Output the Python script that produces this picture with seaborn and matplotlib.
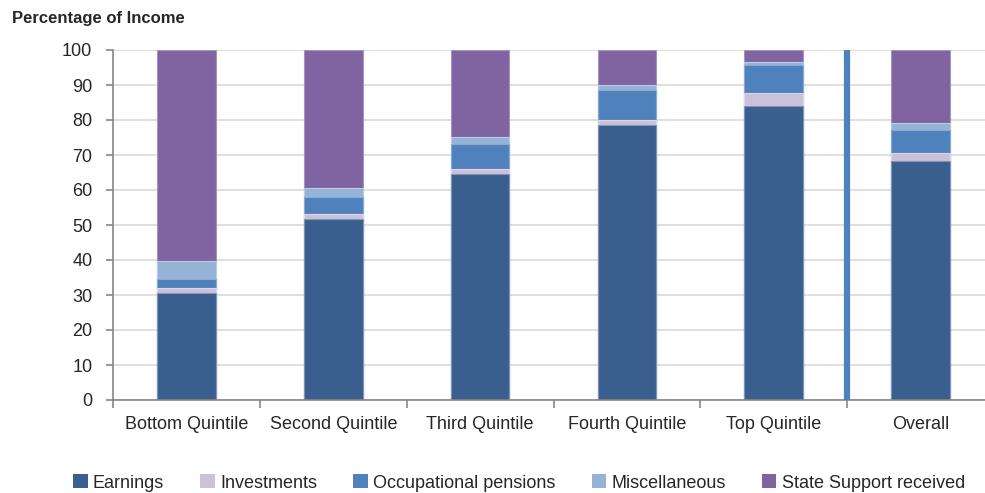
import matplotlib
matplotlib.use("Agg")
import matplotlib.pyplot as plt
import seaborn as sns
import numpy as np
import pandas as pd
from matplotlib.patches import Patch

categories = ["Bottom Quintile", "Second Quintile", "Third Quintile",
              "Fourth Quintile", "Top Quintile", "Overall"]
earnings = [30.7, 51.7, 64.6, 78.6, 84.1, 68.3]
investments = [1.4, 1.4, 1.4, 1.4, 3.6, 2.3]
occupational_pensions = [2.5, 4.9, 7.2, 8.7, 8.1, 6.6]
miscellaneous = [5.2, 2.6, 1.9, 1.3, 0.7, 1.9]
state_support = [60.2, 39.4, 24.9, 10.0, 3.5, 20.9]

series_names = ["Earnings", "Investments", "Occupational pensions",
                "Miscellaneous", "State Support received"]
series_values = [earnings, investments, occupational_pensions,
                 miscellaneous, state_support]
colors = ["#3a5f8e", "#ccc1da", "#4f81bd", "#95b3d7", "#8064a2"]
edge_colors = ["#7f95b3", "#ddd6e6", "#8aaad3", "#b9cde5", "#a793bf"]

sns.set_style("white")
plt.rcParams['font.family'] = ['Liberation Sans', 'DejaVu Sans']

fig = plt.figure(figsize=(9.85, 4.93), dpi=100)
ax = fig.add_axes([113.1/985, 1-400/493, 880.8/985, 350/493])

# cumulative stacking: draw from the top series down
cum = np.cumsum(np.array(series_values), axis=0)
for i in range(len(series_names) - 1, -1, -1):
    df = pd.DataFrame({"cat": categories, "val": cum[i]})
    sns.barplot(data=df, x="cat", y="val", color=colors[i], width=0.4,
                edgecolor=edge_colors[i], linewidth=0.8, ax=ax, saturation=1,
                order=categories)

ax.set_ylim(0, 100)
ax.set_xlim(-0.5, 5.5)
ax.set_yticks(np.arange(0, 101, 10))
ax.yaxis.grid(True, color="#d9d9d9", linewidth=1.2)
ax.set_axisbelow(True)
ax.set_xlabel("")
ax.set_ylabel("")

for s in ["top", "right"]:
    ax.spines[s].set_visible(False)
for s in ["left", "bottom"]:
    ax.spines[s].set_color("#868686")
    ax.spines[s].set_linewidth(1.2)

ax.tick_params(axis="y", which="major", left=True, length=5, width=1.2,
               color="#868686", labelsize=13, pad=10)
ax.tick_params(axis="x", which="major", bottom=False, labelsize=13, pad=8)
ax.set_xticks(np.arange(-0.5, 5.5, 1.0), minor=True)
ax.tick_params(axis="x", which="minor", bottom=True, length=6, width=1.2,
               color="#868686")

# separator between quintiles and overall
ax.axvline(4.5, ymin=0, ymax=1, color="#4f81bd", linewidth=4.5, zorder=3)

fig.text(12/985, 1-18/493, "Percentage of Income", fontsize=12,
         fontweight="bold", va="center", ha="left")

handles = [Patch(facecolor=colors[i], edgecolor="none", label=series_names[i])
           for i in range(len(series_names))]
fig.legend(handles=handles, loc="center", bbox_to_anchor=(0.527, 1-483/493),
           ncol=5, frameon=False, fontsize=13, handlelength=0.8,
           handleheight=0.8, handletextpad=0.3, columnspacing=2.0,
           borderaxespad=0)

fig.savefig("out.png", dpi=100)
